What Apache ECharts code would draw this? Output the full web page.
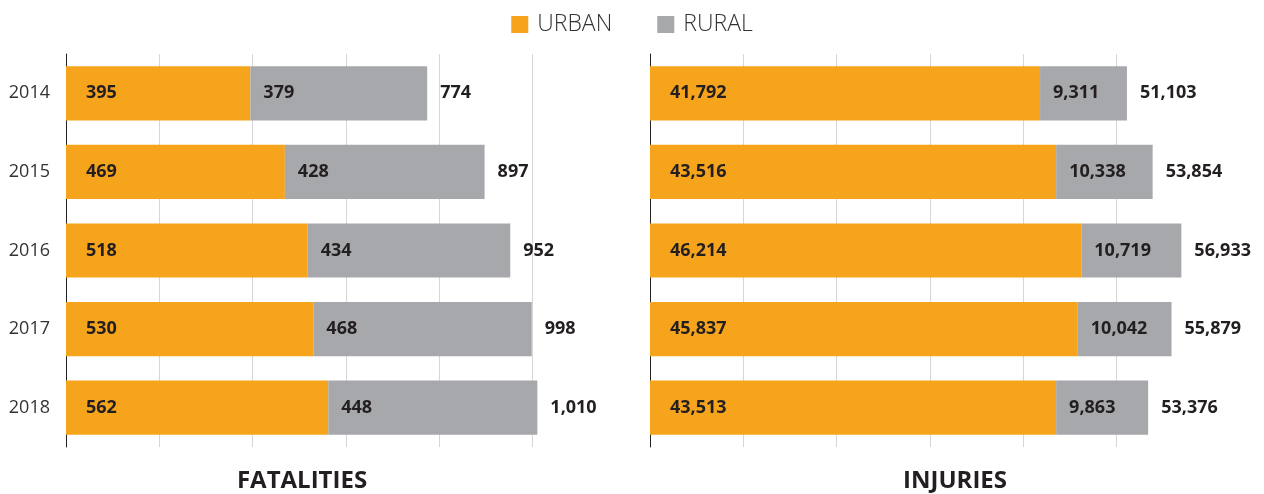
<!DOCTYPE html>
<html>
<head>
<meta charset="utf-8">
<script src="https://cdn.jsdelivr.net/npm/echarts@6/dist/echarts.min.js"></script>
<style>
html,body{margin:0;padding:0;background:#fff;}
#c{width:1264px;height:494px;}
</style>
</head>
<body>
<div id="c"></div>
<script>
const years = ['2014', '2015', '2016', '2017', '2018'];
const fatalUrban = [395, 469, 518, 530, 562];
const fatalRural = [379, 428, 434, 468, 448];
const injUrban = [41792, 43516, 46214, 45837, 43513];
const injRural = [9311, 10338, 10719, 10042, 9863];
const panelTitles = ['FATALITIES', 'INJURIES'];
const seriesNames = ['URBAN', 'RURAL'];

const ORANGE = '#F7A41D';
const GRAY = '#A7A8AB';
const TXT = '#231F20';
const FONT = '"Open Sans", "Noto Sans", sans-serif';

const fmt = v => v.toLocaleString('en-US');
const sum = (a, b) => a.map((v, i) => v + b[i]);

const chart = echarts.init(document.getElementById('c'), null, {renderer: 'canvas'});

function barLabel(dist) {
  return {show: true, position: 'insideLeft', distance: dist, color: TXT,
    fontFamily: FONT, fontWeight: 'bold', fontSize: 18,
    formatter: p => fmt(p.value)};
}

function panelSeries(idx, urban, rural) {
  return [
    {name: seriesNames[0], type: 'bar', xAxisIndex: idx, yAxisIndex: idx, stack: 's' + idx,
      barCategoryGap: '31%', data: urban, itemStyle: {color: ORANGE}, label: barLabel(20), z: 3},
    {name: seriesNames[1], type: 'bar', xAxisIndex: idx, yAxisIndex: idx, stack: 's' + idx,
      data: rural, itemStyle: {color: GRAY}, label: barLabel(13), z: 3},
    {name: 'total' + idx, type: 'bar', xAxisIndex: idx, yAxisIndex: idx,
      barGap: '-100%', data: sum(urban, rural), itemStyle: {color: 'rgba(0,0,0,0)'},
      silent: true, z: 1,
      label: {show: true, position: 'right', distance: 13, color: TXT, fontFamily: FONT,
        fontWeight: 'bold', fontSize: 18, formatter: p => fmt(p.value)}}
  ];
}

function xAx(idx, max, interval) {
  return {type: 'value', gridIndex: idx, min: 0, max: max, interval: interval,
    axisLabel: {show: false}, axisLine: {show: false}, axisTick: {show: false},
    splitLine: {show: true, showMaxLine: false, lineStyle: {color: '#D6D6D6', width: 1}}};
}
function yAx(idx, showLabels) {
  return {type: 'category', gridIndex: idx, data: years, inverse: true,
    axisLine: {show: true, lineStyle: {color: '#222', width: 1}},
    axisTick: {show: false},
    axisLabel: {show: showLabels, color: '#333', fontFamily: FONT, fontSize: 18, margin: 16}};
}

chart.setOption({
  animation: false,
  textStyle: {fontFamily: FONT},
  legend: {
    data: seriesNames, top: 8, left: 'center', itemWidth: 17, itemHeight: 17, itemGap: 45,
    icon: 'rect',
    textStyle: {color: '#333', fontFamily: FONT, fontSize: 23, fontWeight: 300, padding: [0, 0, 0, 4]}
  },
  title: [
    {text: panelTitles[0], left: 297, top: 464, textAlign: 'center',
      textStyle: {color: TXT, fontFamily: FONT, fontWeight: 'bold', fontSize: 24}},
    {text: panelTitles[1], left: 950, top: 464, textAlign: 'center',
      textStyle: {color: TXT, fontFamily: FONT, fontWeight: 'bold', fontSize: 24}}
  ],
  grid: [
    {left: 66, width: 560, top: 54, bottom: 47, containLabel: false},
    {left: 650, width: 560, top: 54, bottom: 47, containLabel: false}
  ],
  xAxis: [xAx(0, 1200, 200), xAx(1, 60000, 10000)],
  yAxis: [yAx(0, true), yAx(1, false)],
  series: [].concat(panelSeries(0, fatalUrban, fatalRural), panelSeries(1, injUrban, injRural))
});
</script>
</body>
</html>
